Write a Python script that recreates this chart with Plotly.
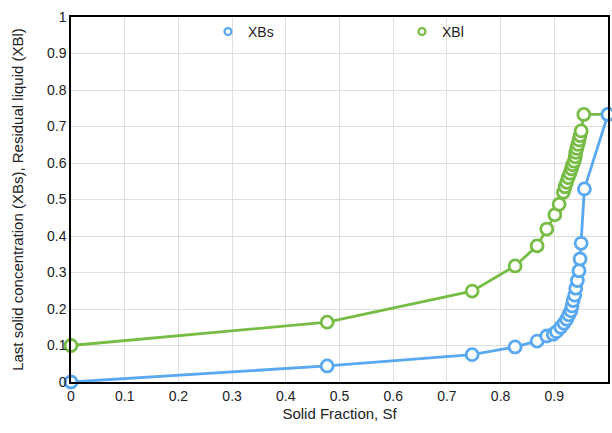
import plotly.graph_objects as go

# Data
sf_s = [0, 0.477, 0.747, 0.827, 0.868, 0.886, 0.898, 0.904, 0.912, 0.918, 0.923, 0.927,
        0.931, 0.933, 0.935, 0.938, 0.940, 0.943, 0.946, 0.948, 0.950, 0.956, 1.0]
xbs = [0, 0.044, 0.075, 0.096, 0.112, 0.126, 0.131, 0.138, 0.150, 0.161, 0.172, 0.184,
       0.195, 0.208, 0.223, 0.238, 0.257, 0.278, 0.305, 0.337, 0.380, 0.529, 0.733]

sf_l = [0, 0.477, 0.747, 0.827, 0.868, 0.886, 0.901, 0.909, 0.917, 0.920, 0.923, 0.926,
        0.929, 0.932, 0.934, 0.937, 0.939, 0.940, 0.942, 0.944, 0.946, 0.948, 0.950, 0.955, 1.0]
xbl = [0.1, 0.164, 0.249, 0.318, 0.373, 0.419, 0.458, 0.487, 0.520, 0.535, 0.547, 0.560,
       0.572, 0.584, 0.595, 0.605, 0.617, 0.629, 0.640, 0.651, 0.663, 0.675, 0.688, 0.733, 0.733]

ticks = [0, 0.1, 0.2, 0.3, 0.4, 0.5, 0.6, 0.7, 0.8, 0.9, 1]
tick_labels = ["0", "0.1", "0.2", "0.3", "0.4", "0.5", "0.6", "0.7", "0.8", "0.9", "1"]

blue = "#58A8F2"
green = "#77BC45"
font_family = "Liberation Sans, Arial, sans-serif"

fig = go.Figure()
fig.add_trace(go.Scatter(
    x=sf_l, y=xbl, mode="lines+markers", name="XBl", showlegend=False,
    line=dict(color=green, width=2.8),
    marker=dict(symbol="circle", size=12, color="white", line=dict(color=green, width=2.8)),
    cliponaxis=False,
))
fig.add_trace(go.Scatter(
    x=sf_s, y=xbs, mode="lines+markers", name="XBs", showlegend=False,
    line=dict(color=blue, width=2.8),
    marker=dict(symbol="circle", size=12, color="white", line=dict(color=blue, width=2.8)),
    cliponaxis=False,
))
# legend entries (marker only)
fig.add_trace(go.Scatter(
    x=[None], y=[None], mode="markers", name="XBs", legend="legend",
    marker=dict(symbol="circle", size=7, color="white", line=dict(color=blue, width=2.2)),
))
fig.add_trace(go.Scatter(
    x=[None], y=[None], mode="markers", name="XBl", legend="legend2",
    marker=dict(symbol="circle", size=7, color="white", line=dict(color=green, width=2.2)),
))

axis_common = dict(
    range=[0, 1], tickvals=ticks, ticktext=tick_labels,
    showgrid=True, gridcolor="#DEDEDE", gridwidth=1,
    showline=True, linecolor="black", linewidth=1.5, mirror=True,
    zeroline=False, ticks="", tickfont=dict(size=14, color="#222222"),
    automargin=False,
)

legend_common = dict(orientation="h", yanchor="middle", xanchor="left",
                     bgcolor="rgba(0,0,0,0)", font=dict(size=14, color="#222222"))

fig.update_layout(
    width=612, height=433,
    margin=dict(l=71, r=4, t=17, b=51),
    paper_bgcolor="white", plot_bgcolor="white",
    font=dict(family=font_family, color="#222222"),
    xaxis=dict(**axis_common, title=dict(text="Solid Fraction, Sf", font=dict(size=15), standoff=6)),
    yaxis=dict(**axis_common, title=dict(text="Last solid concentration (XBs), Residual liquid (XBl)",
                                         font=dict(size=15), standoff=20)),
    legend=dict(**legend_common, x=(208 - 71) / 537, y=(382 - 32) / 365),
    legend2=dict(**legend_common, x=(402 - 71) / 537, y=(382 - 32) / 365),
)

fig.write_html(
    "out.html",
    config={"displayModeBar": False},
    post_script="document.body.style.margin='0';document.body.style.overflow='hidden';",
)
